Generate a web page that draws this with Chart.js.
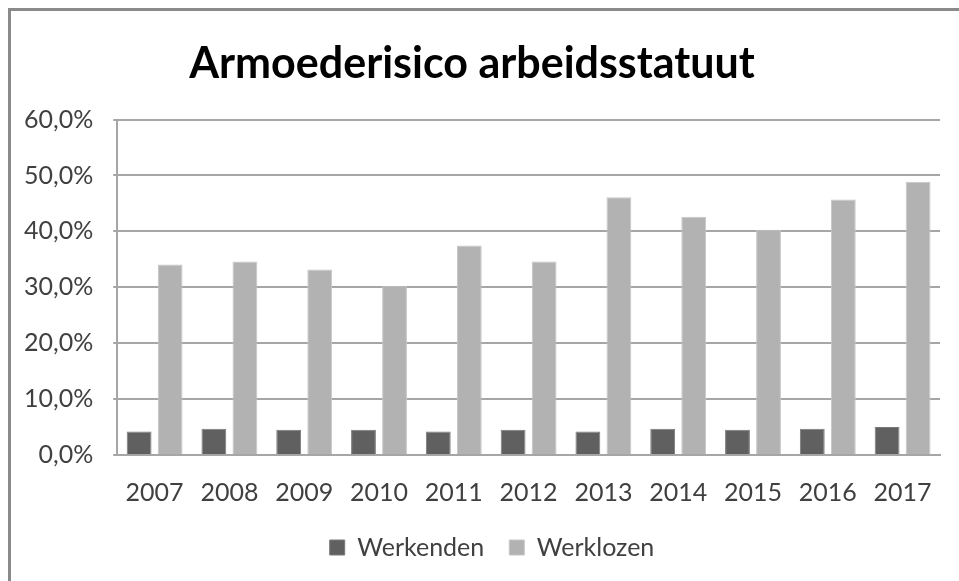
<!DOCTYPE html>
<html>
<head>
<meta charset="utf-8">
<script src="https://cdn.jsdelivr.net/npm/chart.js@4.4.1/dist/chart.umd.min.js"></script>
<style>
    body { margin: 0; background: #ffffff; }
    #frame { position: absolute; left: 8px; top: 8px; width: 960px; height: 580px;
             border-top: 3px solid #8a8a8a; border-left: 3px solid #8a8a8a; pointer-events: none; }
    #holder { position: absolute; left: 0; top: 0; width: 959px; height: 581px; }
</style>
</head>
<body>
<div id="holder"><canvas id="chart"></canvas></div>
<div id="frame"></div>
<script>
const YEARS = ["2007", "2008", "2009", "2010", "2011", "2012", "2013", "2014", "2015", "2016", "2017"];
const WERKENDEN = [4.2, 4.7, 4.5, 4.5, 4.2, 4.5, 4.2, 4.7, 4.5, 4.7, 5.0];
const WERKLOZEN = [34.1, 34.6, 33.2, 30.2, 37.5, 34.6, 46.1, 42.6, 40.3, 45.7, 48.9];
const TITLE = "Armoederisico arbeidsstatuut";

const FONT = "Lato";
const TEXT_COLOR = "#404040";
const GRID_COLOR = "#a6a6a6";

const formatPercent = (value) => value.toFixed(1).replace(".", ",") + "%";

// nudge the legend to the right, the way the original sits
const legendShift = {
    id: "legendShift",
    afterLayout(chart) {
        chart.legend.left += 20;
        chart.legend.right += 20;
    }
};

const getData = () => {
    return {
        labels: YEARS,
        datasets: [{
            label: "Werkenden",
            data: WERKENDEN,
            backgroundColor: "#606060",
            borderColor: "#7a7a7a",
            borderWidth: 1
        }, {
            label: "Werklozen",
            data: WERKLOZEN,
            backgroundColor: "#b2b2b2",
            borderColor: "#c6c6c6",
            borderWidth: 1
        }]
    };
};

const getConfig = () => {
    return {
        type: "bar",
        data: getData(),
        plugins: [legendShift],
        options: {
            responsive: true,
            maintainAspectRatio: false,
            animation: false,
            layout: { padding: { left: 4, right: 19, top: 22, bottom: 11 } },
            datasets: { bar: { categoryPercentage: 0.83, barPercentage: 0.8 } },
            scales: {
                x: {
                    grid: { display: false, drawTicks: false },
                    border: { display: true, color: GRID_COLOR, width: 2 },
                    ticks: { color: TEXT_COLOR, font: { family: FONT, size: 25 }, padding: 23 },
                    afterFit: (scale) => { scale.height -= 21; }
                },
                y: {
                    min: 0,
                    max: 60,
                    grid: { color: GRID_COLOR, lineWidth: 2, tickLength: 4 },
                    border: { display: true, color: GRID_COLOR, width: 2 },
                    ticks: {
                        stepSize: 10,
                        color: TEXT_COLOR,
                        font: { family: FONT, size: 25 },
                        padding: 20,
                        callback: (value) => formatPercent(value)
                    }
                }
            },
            plugins: {
                title: {
                    display: true,
                    text: TITLE,
                    color: "#000000",
                    font: { family: FONT, size: 43, weight: "bold" },
                    padding: { top: 16, bottom: 30 }
                },
                legend: {
                    position: "bottom",
                    labels: {
                        color: TEXT_COLOR,
                        font: { family: FONT, size: 25 },
                        boxWidth: 15,
                        boxHeight: 15,
                        padding: 25
                    }
                },
                tooltip: { enabled: false }
            }
        }
    };
};

new Chart(document.getElementById("chart"), getConfig());
</script>
</body>
</html>
